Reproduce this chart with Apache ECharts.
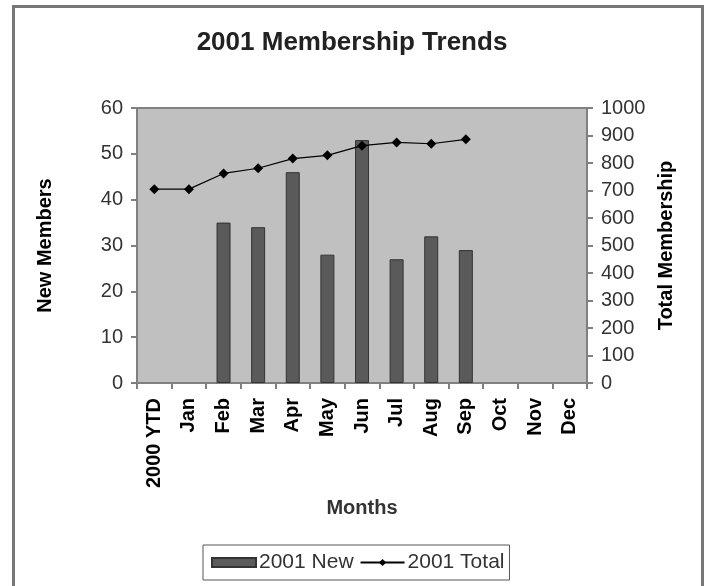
<!DOCTYPE html>
<html>
<head>
<meta charset="utf-8">
<script src="https://cdn.jsdelivr.net/npm/echarts@6/dist/echarts.min.js"></script>
<style>
html,body{margin:0;padding:0;background:#fff;}
#c{width:704px;height:586px;}
</style>
</head>
<body>
<div id="c"></div>
<script>
const categories = ['2000 YTD','Jan','Feb','Mar','Apr','May','Jun','Jul','Aug','Sep','Oct','Nov','Dec'];
const newMembers = [null, null, 35, 34, 46, 28, 53, 27, 32, 29, null, null, null];
const totalMembership = [705, 705, 762, 781, 816, 828, 863, 875, 870, 886, null, null, null];
const leftTicks = {min: 0, max: 60, interval: 10};
const rightTicks = {min: 0, max: 1000, interval: 100};

const FONT = 'Liberation Sans, Arial, sans-serif';
const chart = echarts.init(document.getElementById('c'));
chart.setOption({
  backgroundColor: '#fff',
  animation: false,
  textStyle: {fontFamily: FONT},
  graphic: [{
    type: 'rect', left: 11, top: 4,
    shape: {width: 689, height: 600},
    style: {fill: 'none', stroke: '#777', lineWidth: 3}
  }],
  title: {
    text: '2001 Membership Trends', left: 'center', top: 25,
    textStyle: {fontFamily: FONT, fontSize: 26, fontWeight: 'bold', color: '#222'}
  },
  legend: {
    left: 203, top: 545, width: 330,
    itemGap: 6, itemWidth: 44, itemHeight: 9,
    padding: [7, 5, 7, 8],
    borderColor: '#555', borderWidth: 1,
    textStyle: {fontFamily: FONT, fontSize: 21, color: '#333', padding: [0, 0, 0, -2]},
    data: [{name: '2001 New', icon: 'rect'}, {name: '2001 Total'}]
  },
  grid: {left: 137, right: 117, top: 108, bottom: 203, show: true,
    backgroundColor: '#c0c0c0', borderColor: '#808080', borderWidth: 2},
  xAxis: {
    type: 'category', data: categories,
    name: 'Months', nameLocation: 'middle', nameGap: 115,
    nameTextStyle: {fontFamily: FONT, fontSize: 20, fontWeight: 'bold', color: '#333'},
    axisLine: {lineStyle: {color: '#808080', width: 2}},
    axisTick: {show: true, length: 6, lineStyle: {color: '#808080', width: 2}},
    axisLabel: {rotate: 90, interval: 0, fontFamily: FONT, fontSize: 20, fontWeight: 'bold', color: '#000', margin: 15}
  },
  yAxis: [{
    type: 'value', min: leftTicks.min, max: leftTicks.max, interval: leftTicks.interval,
    name: 'New Members', nameLocation: 'middle', nameGap: 82, nameRotate: 90,
    nameTextStyle: {fontFamily: FONT, fontSize: 20, fontWeight: 'bold', color: '#000'},
    axisLine: {show: true, lineStyle: {color: '#808080', width: 2}},
    axisTick: {show: true, length: 6, lineStyle: {color: '#808080', width: 2}},
    splitLine: {show: false},
    axisLabel: {fontFamily: FONT, fontSize: 20, color: '#333', margin: 14}
  }, {
    type: 'value', position: 'right', min: rightTicks.min, max: rightTicks.max, interval: rightTicks.interval,
    name: 'Total Membership', nameLocation: 'middle', nameGap: 66, nameRotate: 90,
    nameTextStyle: {fontFamily: FONT, fontSize: 20, fontWeight: 'bold', color: '#000'},
    axisLine: {show: true, lineStyle: {color: '#808080', width: 2}},
    axisTick: {show: true, length: 6, lineStyle: {color: '#808080', width: 2}},
    splitLine: {show: false},
    axisLabel: {fontFamily: FONT, fontSize: 20, color: '#333', margin: 14, formatter: v => String(v)}
  }],
  series: [{
    name: '2001 New', type: 'bar', yAxisIndex: 0, data: newMembers,
    barWidth: 14,
    itemStyle: {color: '#5a5a5a', borderColor: '#333', borderWidth: 1}
  }, {
    name: '2001 Total', type: 'line', yAxisIndex: 1, data: totalMembership,
    symbol: 'diamond', symbolSize: 10,
    lineStyle: {color: '#000', width: 1.2},
    itemStyle: {color: '#000'}
  }]
});
</script>
</body>
</html>
